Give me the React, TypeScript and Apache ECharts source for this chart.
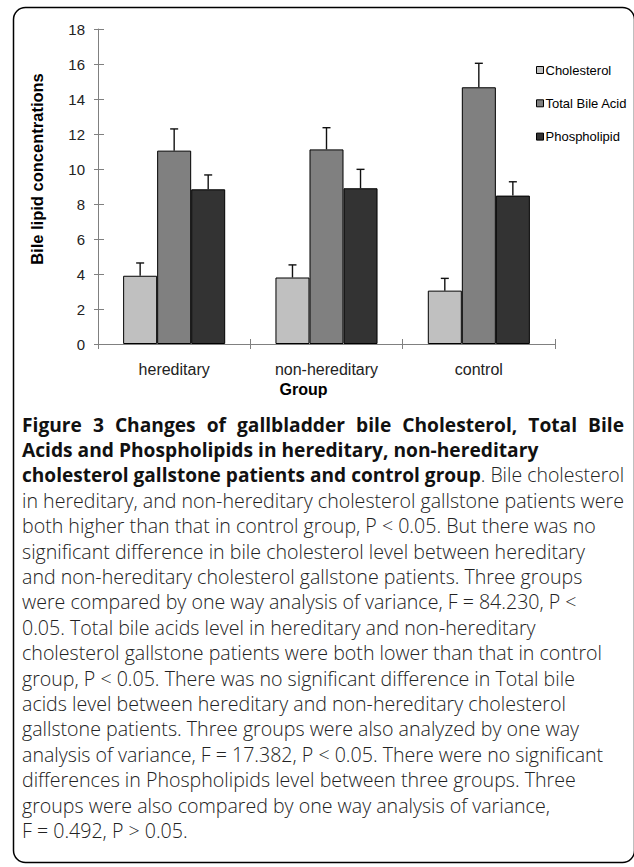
import React, { useEffect, useRef } from "react";
import * as echarts from "echarts";

const categories = ["hereditary", "non-hereditary", "control"];
const seriesNames = ["Cholesterol", "Total Bile Acid", "Phospholipid"];
const cholesterol = [3.9, 3.8, 3.05];
const totalBileAcid = [11.05, 11.12, 14.67];
const phospholipid = [8.84, 8.9, 8.48];
const cholesterolErr = [0.73, 0.72, 0.7];
const totalBileAcidErr = [1.24, 1.24, 1.37];
const phospholipidErr = [0.82, 1.08, 0.79];
const yTicks = { min: 0, max: 18, interval: 2 };
const barColors = ["#c0c0c0", "#808080", "#333333"];

const captionBold = [
  "Figure 3 Changes of gallbladder bile Cholesterol, Total Bile",
  "Acids and Phospholipids in hereditary, non-hereditary",
];
const captionMixedBold = "cholesterol gallstone patients and control group";
const captionMixedRest = ". Bile cholesterol";
const captionLines = [
  "in hereditary, and non-hereditary cholesterol gallstone patients were",
  "both higher than that in control group, P < 0.05. But there was no",
  "significant difference in bile cholesterol level between hereditary",
  "and non-hereditary cholesterol gallstone patients. Three groups",
  "were compared by one way analysis of variance, F = 84.230, P <",
  "0.05. Total bile acids level in hereditary and non-hereditary",
  "cholesterol gallstone patients were both lower than that in control",
  "group, P < 0.05. There was no significant difference in Total bile",
  "acids level between hereditary and non-hereditary cholesterol",
  "gallstone patients. Three groups were also analyzed by one way",
  "analysis of variance, F = 17.382, P < 0.05. There were no significant",
  "differences in Phospholipids level between three groups. Three",
  "groups were also compared by one way analysis of variance,",
  "F = 0.492, P > 0.05.",
];

const values = [cholesterol, totalBileAcid, phospholipid];
const errors = [cholesterolErr, totalBileAcidErr, phospholipidErr];
const CAT_GAP = 0.33;

export default function App() {
  const ref = useRef<HTMLDivElement>(null);
  useEffect(() => {
    document.body.style.margin = "0";
    const chart = echarts.init(ref.current!, null, { renderer: "svg" });
    const chartFont = "'Liberation Sans', Arial, sans-serif";
    const capFont = "'Open Sans', 'Noto Sans', sans-serif";
    const boldSize = 19.2;
    const regSize = 19.6;
    const boldFont = "bold " + boldSize + "px " + capFont;
    const regFont = "300 " + regSize + "px " + capFont;
    const lineStart = 424;
    const lineStep = 25.4;
    const capX = 22;
    const capRight = 624;

    const ctx = document.createElement("canvas").getContext("2d")!;
    const measure = (t: string, font: string) => {
      ctx.font = font;
      return ctx.measureText(t).width;
    };

    const barSeries: any[] = seriesNames.map((name, i) => ({
      name,
      type: "bar",
      data: values[i],
      barGap: "0%",
      barCategoryGap: CAT_GAP * 100 + "%",
      itemStyle: { color: barColors[i], borderColor: "#000", borderWidth: 1 },
      xAxisIndex: 0,
      yAxisIndex: 0,
      z: 2,
    }));

    const errSeries: any[] = seriesNames.map((name, i) => ({
      name: name + " error",
      type: "custom",
      xAxisIndex: 0,
      yAxisIndex: 0,
      z: 5,
      data: values[i].map((v, ci) => [ci, v, errors[i][ci]]),
      encode: { x: 0, y: 1 },
      renderItem: (params: any, api: any) => {
        const ci = api.value(0);
        const v = api.value(1);
        const e = api.value(2);
        const base = api.coord([ci, v]);
        const top = api.coord([ci, v + e]);
        const catW = api.size([1, 0])[0];
        const bw = (catW * (1 - CAT_GAP)) / 3;
        const x = base[0] + (i - 1) * bw;
        const st = { stroke: "#111", lineWidth: 1.4 };
        return {
          type: "group",
          children: [
            { type: "line", shape: { x1: x, y1: base[1], x2: x, y2: top[1] }, style: st },
            { type: "line", shape: { x1: x - 4, y1: top[1], x2: x + 4, y2: top[1] }, style: st },
          ],
        };
      },
    }));

    const graphics: any[] = [
      {
        type: "rect",
        shape: { x: 13.5, y: 7.5, width: 621, height: 855, r: 12 },
        style: { fill: "none", stroke: "#000", lineWidth: 1.5 },
        silent: true,
      },
      {
        type: "text",
        x: 37,
        y: 169,
        rotation: Math.PI / 2,
        style: {
          text: "Bile lipid concentrations",
          font: "bold 16.5px " + chartFont,
          fill: "#000",
          align: "center",
          verticalAlign: "middle",
        },
      },
      {
        type: "text",
        x: 303.5,
        y: 389,
        style: {
          text: "Group",
          font: "bold 16px " + chartFont,
          fill: "#000",
          align: "center",
          verticalAlign: "middle",
        },
      },
    ];

    // first bold line: words spread over full width
    {
      const words = captionBold[0].split(" ");
      const widths = words.map((w) => measure(w, boldFont));
      const total = widths.reduce((a, b) => a + b, 0);
      const gap = (capRight - capX - total) / (words.length - 1);
      let x = capX;
      words.forEach((w, k) => {
        graphics.push({
          type: "text",
          x,
          y: lineStart,
          style: { text: w, font: boldFont, fill: "#111", align: "left", verticalAlign: "middle" },
        });
        x += widths[k] + gap;
      });
    }
    graphics.push({
      type: "text",
      x: capX,
      y: lineStart + lineStep,
      style: { text: captionBold[1], font: boldFont, fill: "#111", align: "left", verticalAlign: "middle" },
    });
    {
      const wb = measure(captionMixedBold, boldFont);
      const wr = measure(captionMixedRest, regFont);
      const k = Math.min(1, (capRight - capX) / (wb + wr));
      const bf = "bold " + boldSize * k + "px " + capFont;
      const rf = "300 " + regSize * k + "px " + capFont;
      const wb2 = measure(captionMixedBold, bf);
      graphics.push({
        type: "text",
        x: capX,
        y: lineStart + 2 * lineStep,
        style: { text: captionMixedBold, font: bf, fill: "#111", align: "left", verticalAlign: "middle" },
      });
      graphics.push({
        type: "text",
        x: capX + wb2,
        y: lineStart + 2 * lineStep,
        style: { text: captionMixedRest, font: rf, fill: "#222", align: "left", verticalAlign: "middle" },
      });
    }
    captionLines.forEach((t, k) => {
      graphics.push({
        type: "text",
        x: capX,
        y: lineStart + (k + 3) * lineStep,
        style: { text: t, font: regFont, fill: "#222", align: "left", verticalAlign: "middle" },
      });
    });

    chart.setOption({
      animation: false,
      backgroundColor: "#fff",
      grid: { left: 98, top: 29, width: 457, height: 315, containLabel: false },
      legend: {
        orient: "vertical",
        left: 531,
        top: 58.5,
        itemWidth: 7,
        itemHeight: 7,
        itemGap: 20.3,
        icon: "rect",
        data: seriesNames,
        itemStyle: { borderColor: "#000", borderWidth: 1 },
        textStyle: {
          fontFamily: chartFont,
          fontSize: 13,
          color: "#000",
          lineHeight: 13,
          padding: [0, 0, 0, -3],
        },
      },
      xAxis: [
        {
          type: "category",
          data: categories,
          boundaryGap: true,
          axisLine: { lineStyle: { color: "#808080", width: 1 } },
          axisTick: { show: true, length: 5, lineStyle: { color: "#808080" } },
          axisLabel: { fontFamily: chartFont, fontSize: 16, color: "#222", margin: 17 },
          splitLine: { show: false },
        },
        {
          type: "category",
          data: categories,
          position: "bottom",
          boundaryGap: true,
          axisLine: { show: false },
          axisTick: { show: true, inside: true, length: 5, lineStyle: { color: "#808080" } },
          axisLabel: { show: false },
          splitLine: { show: false },
        },
      ],
      yAxis: [
        {
          type: "value",
          min: yTicks.min,
          max: yTicks.max,
          interval: yTicks.interval,
          axisLine: { show: true, lineStyle: { color: "#808080", width: 1 } },
          axisTick: { show: true, length: 4, lineStyle: { color: "#808080" } },
          axisLabel: { fontFamily: chartFont, fontSize: 15, color: "#222", margin: 13 },
          splitLine: { show: false },
        },
        {
          type: "value",
          min: yTicks.min,
          max: yTicks.max,
          interval: yTicks.interval,
          position: "left",
          axisLine: { show: false },
          axisTick: { show: true, inside: true, length: 6, lineStyle: { color: "#808080" } },
          axisLabel: { show: false },
          splitLine: { show: false },
        },
      ],
      series: [...barSeries, ...errSeries],
      graphic: graphics,
    });
    return () => chart.dispose();
  }, []);
  return <div ref={ref} style={{ width: 634, height: 867 }} />;
}
